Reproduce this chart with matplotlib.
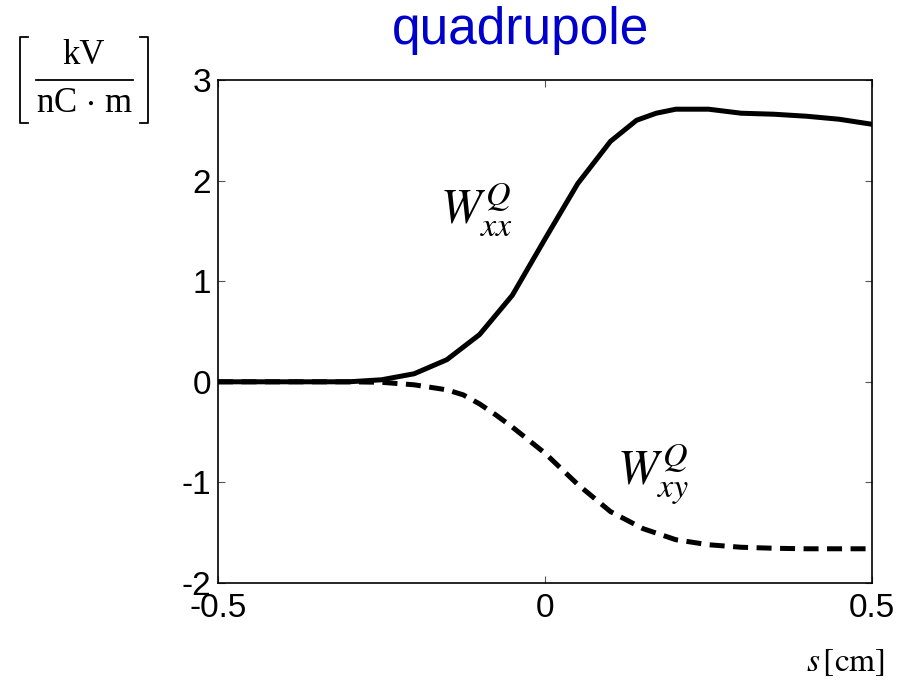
import matplotlib.pyplot as plt
from matplotlib.lines import Line2D

plt.rcParams['font.family'] = ['Liberation Sans', 'DejaVu Sans']
plt.rcParams['mathtext.fontset'] = 'stix'
plt.rcParams['axes.unicode_minus'] = False

# wake potentials, s in cm, W in kV/(nC m)
s_xx = [-0.5, -0.30, -0.25, -0.20, -0.15, -0.10, -0.05, 0.0, 0.05, 0.10,
        0.14, 0.17, 0.20, 0.25, 0.30, 0.35, 0.40, 0.45, 0.5]
w_xx = [0.0, 0.0, 0.02, 0.08, 0.22, 0.47, 0.86, 1.42, 1.97, 2.39,
        2.60, 2.67, 2.71, 2.71, 2.67, 2.66, 2.64, 2.61, 2.56]

s_xy = [-0.5, -0.30, -0.25, -0.20, -0.15, -0.125, -0.10, -0.075, -0.05, -0.025,
        0.0, 0.05, 0.10, 0.15, 0.20, 0.25, 0.30, 0.35, 0.40, 0.45, 0.5]
w_xy = [0.0, 0.0, -0.005, -0.03, -0.08, -0.13, -0.22, -0.33, -0.45, -0.58,
        -0.71, -1.02, -1.29, -1.46, -1.57, -1.62, -1.645, -1.655, -1.66, -1.66, -1.66]

xticks = [-0.5, 0, 0.5]
xticklabels = ['-0.5', '0', '0.5']
yticks = [-2, -1, 0, 1, 2, 3]

W, H = 919, 684
fig = plt.figure(figsize=(W / 100, H / 100), dpi=100)
ax = fig.add_axes([0.2372, 0.1477, 0.7117, 0.7353])

ax.plot(s_xx, w_xx, color='black', linewidth=3.6, solid_joinstyle='round')
ax.plot(s_xy, w_xy, color='black', linewidth=3.6, linestyle=(0, (3, 1.7)))

ax.set_xlim(-0.5, 0.5)
ax.set_ylim(-2, 3)
ax.set_xticks(xticks)
ax.set_xticklabels(xticklabels)
ax.set_yticks(yticks)
ax.tick_params(direction='in', length=5, width=0.8, color='#555555',
               labelsize=24, top=True, right=True)
ax.tick_params(axis='x', pad=7)
ax.tick_params(axis='y', pad=5)
for sp in ax.spines.values():
    sp.set_linewidth(1.2)

ax.text(-0.105, 1.72, r'$W_{xx}^{Q}$', fontsize=35, ha='center', va='center')
ax.text(0.165, -0.92, r'$W_{xy}^{Q}$', fontsize=35, ha='center', va='center')

fig.text(0.566, 0.955, 'quadrupole', color='#0000cc', fontsize=37,
         ha='center', va='center')

# unit label: kV / (nC m) in brackets, built from pieces (pixel coords)
def px(x, y):
    return x / W, 1 - y / H

serif = 'Liberation Serif'
fig.text(*px(84, 56), 'kV', family=serif, fontsize=25, ha='center', va='center')
fig.text(*px(85, 103), r'nC$\,\cdot\,$m', family=serif, fontsize=25,
         ha='center', va='center')
for xs, ys in [([36, 133], [80, 80]),
               ([28, 20, 20, 28], [37, 37, 123, 123]),
               ([140, 148, 148, 140], [37, 37, 123, 123])]:
    fig.add_artist(Line2D([x / W for x in xs], [1 - y / H for y in ys],
                          color='black', linewidth=1.3))

fig.text(0.92, 0.032, r'$s\,[\mathrm{cm}]$', fontsize=24, ha='center', va='center')

fig.savefig('out.png', dpi=100)
